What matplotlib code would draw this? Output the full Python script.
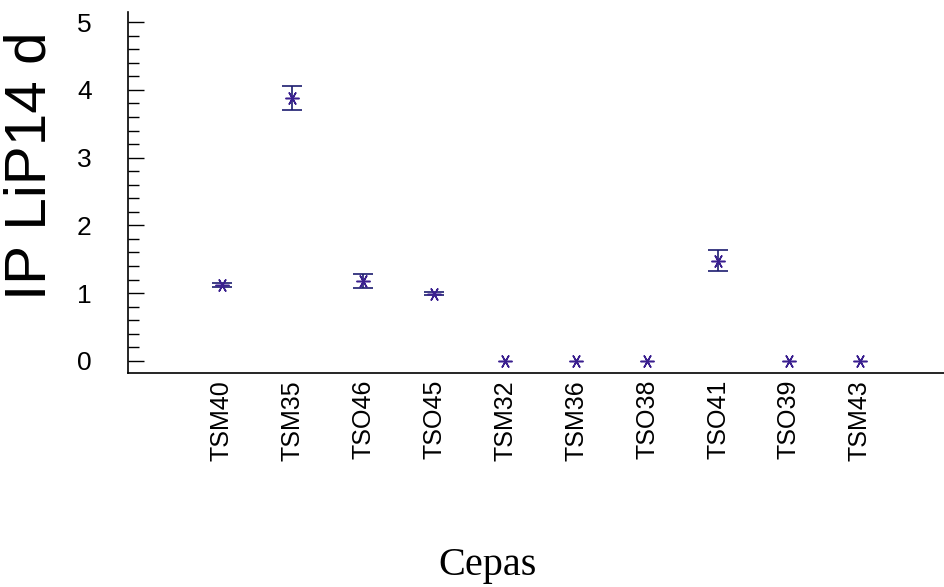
import matplotlib
matplotlib.use("Agg")
import matplotlib.pyplot as plt
from matplotlib.ticker import MultipleLocator

# data
cepas = ["TSM40", "TSM35", "TSO46", "TSO45", "TSM32", "TSM36", "TSO38", "TSO41", "TSO39", "TSM43"]
ip_mean = [1.12, 3.88, 1.18, 0.99, 0.0, 0.0, 0.0, 1.48, 0.0, 0.0]
ip_err = [0.03, 0.17, 0.10, 0.02, 0.0, 0.0, 0.0, 0.16, 0.0, 0.0]

plt.rcParams['font.family'] = ['Liberation Sans', 'DejaVu Sans']

fig = plt.figure(figsize=(9.45, 5.87), dpi=100)
ax = fig.add_axes([0.1354, 0.3646, 0.8646, 0.615])

x = list(range(len(cepas)))
# only draw error bars where there is some spread
ex = [i for i in x if ip_err[i] > 0]
ax.errorbar(ex, [ip_mean[i] for i in ex], yerr=[ip_err[i] for i in ex], fmt="none",
            ecolor="#1c1c70", elinewidth=1.2, capsize=7, capthick=1.2)
ax.plot(x, ip_mean, linestyle="none", marker=(6, 2, 90), markersize=10,
        markeredgewidth=1.1, color="#3a1f8f")

ax.set_xlim(-1.32, 10.2)
ax.set_ylim(-0.18, 5.15)
ax.set_xticks(x)
ax.set_xticklabels(cepas, rotation=90, fontsize=18)
ax.tick_params(axis="x", length=0, pad=5)

ax.yaxis.set_major_locator(MultipleLocator(1))
ax.yaxis.set_minor_locator(MultipleLocator(0.2))
ax.tick_params(axis="y", which="major", direction="in", length=11.5, width=1, labelsize=19, pad=26)
ax.tick_params(axis="y", which="minor", direction="in", length=8, width=1)

for s in ["top", "right"]:
    ax.spines[s].set_visible(False)
for s in ["left", "bottom"]:
    ax.spines[s].set_linewidth(1.2)

fig.text(0.032, 0.718, "IP LiP14 d", rotation=90, fontsize=42, ha="center", va="center")
fig.text(0.516, 0.037, "Cepas", fontsize=29, family="Liberation Serif", ha="center", va="center")

fig.savefig("out.png", dpi=100)
